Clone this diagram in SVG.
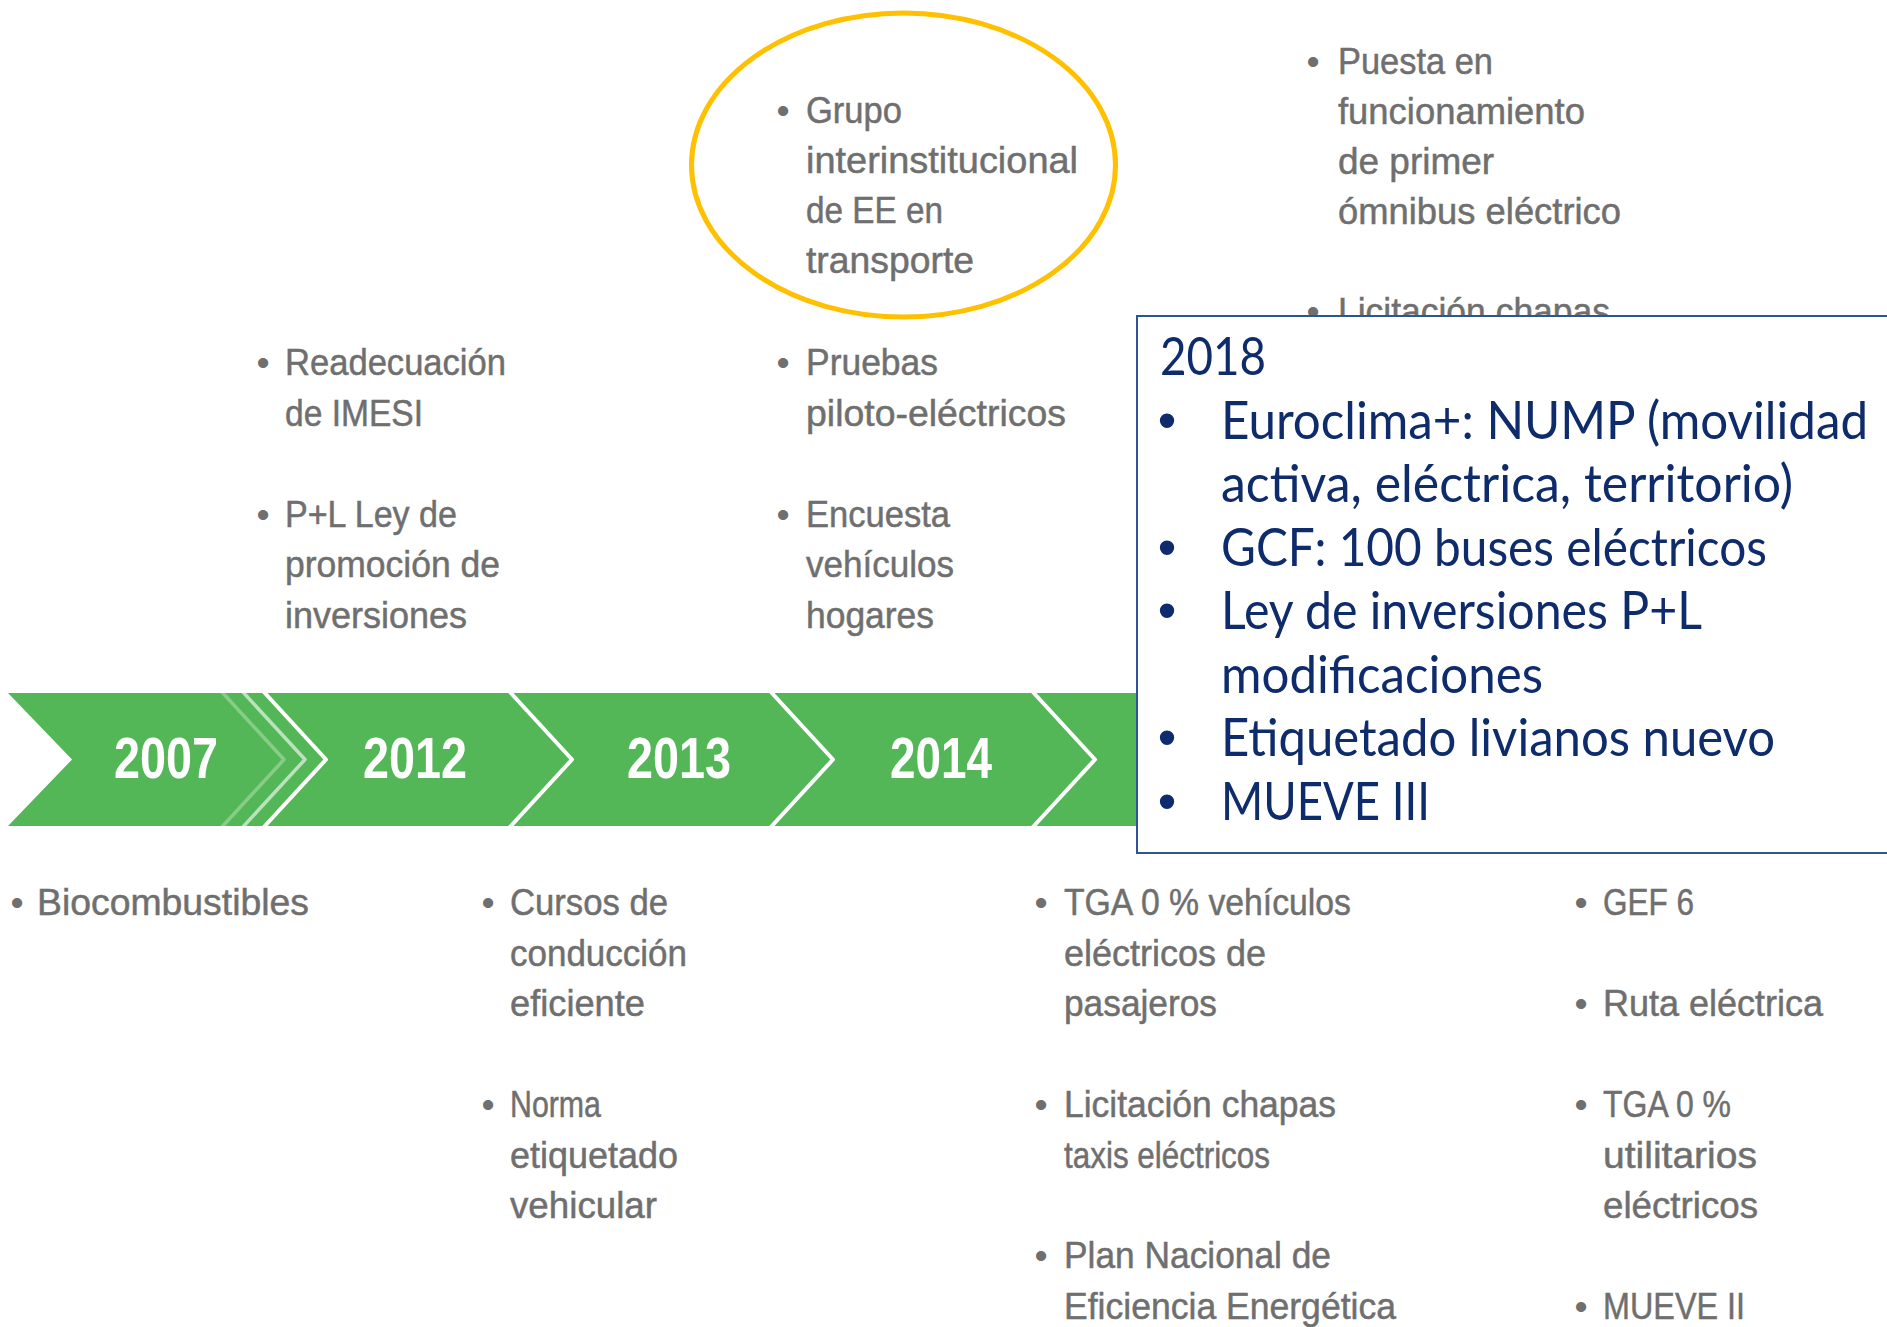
<svg xmlns="http://www.w3.org/2000/svg" width="1887" height="1327" viewBox="0 0 1887 1327">
  <style>
    .g { font-family: "Liberation Sans", Arial, sans-serif; font-size: 37.5px; fill: #6f6f6f; stroke: #6f6f6f; stroke-width: 0.5px; }
    .gb { font-family: "Liberation Sans", Arial, sans-serif; font-size: 37.5px; fill: #6f6f6f; text-anchor: middle; }
    .yr { font-family: "Liberation Sans", Arial, sans-serif; font-size: 57px; font-weight: bold; fill: #ffffff; text-anchor: middle; }
    .bx { font-family: Lato, "Liberation Sans", sans-serif; font-size: 53px; fill: #0e2c6c; }
    .bxb { font-family: "Liberation Sans", Arial, sans-serif; font-size: 53px; fill: #0e2c6c; text-anchor: middle; }
    .chev { fill: none; stroke: #ffffff; stroke-width: 4; stroke-linejoin: round; }
  </style>
  <rect x="0" y="0" width="1887" height="1327" fill="#ffffff"/>

  <!-- upper texts -->
  <g id="item-2012-top">
    <text class="gb" x="263" y="375">•</text>
    <text class="g" x="285" y="375" textLength="221" lengthAdjust="spacingAndGlyphs">Readecuación</text>
    <text class="g" x="285" y="425.5" textLength="138" lengthAdjust="spacingAndGlyphs">de IMESI</text>
    <text class="gb" x="263" y="526.5">•</text>
    <text class="g" x="285" y="526.5" textLength="172" lengthAdjust="spacingAndGlyphs">P+L Ley de</text>
    <text class="g" x="285" y="577" textLength="215" lengthAdjust="spacingAndGlyphs">promoción de</text>
    <text class="g" x="285" y="627.5" textLength="182" lengthAdjust="spacingAndGlyphs">inversiones</text>
  </g>

  <g id="item-2014-top">
    <text class="gb" x="783" y="123">•</text>
    <text class="g" x="806" y="123" textLength="96" lengthAdjust="spacingAndGlyphs">Grupo</text>
    <text class="g" x="806" y="173" textLength="272" lengthAdjust="spacingAndGlyphs">interinstitucional</text>
    <text class="g" x="806" y="223" textLength="137" lengthAdjust="spacingAndGlyphs">de EE en</text>
    <text class="g" x="806" y="273" textLength="168" lengthAdjust="spacingAndGlyphs">transporte</text>
    <text class="gb" x="783" y="375">•</text>
    <text class="g" x="806" y="375" textLength="132" lengthAdjust="spacingAndGlyphs">Pruebas</text>
    <text class="g" x="806" y="425.5" textLength="260" lengthAdjust="spacingAndGlyphs">piloto-eléctricos</text>
    <text class="gb" x="783" y="526.5">•</text>
    <text class="g" x="806" y="526.5" textLength="144" lengthAdjust="spacingAndGlyphs">Encuesta</text>
    <text class="g" x="806" y="577" textLength="148" lengthAdjust="spacingAndGlyphs">vehículos</text>
    <text class="g" x="806" y="627.5" textLength="128" lengthAdjust="spacingAndGlyphs">hogares</text>
  </g>

  <g id="highlight-ellipse">
    <ellipse cx="903.5" cy="165" rx="212" ry="152" fill="none" stroke="#ffc000" stroke-width="5"/>
  </g>

  <g id="item-2016-top">
    <text class="gb" x="1313" y="74">•</text>
    <text class="g" x="1338" y="74" textLength="155" lengthAdjust="spacingAndGlyphs">Puesta en</text>
    <text class="g" x="1338" y="124" textLength="247" lengthAdjust="spacingAndGlyphs">funcionamiento</text>
    <text class="g" x="1338" y="174" textLength="156" lengthAdjust="spacingAndGlyphs">de primer</text>
    <text class="g" x="1338" y="224" textLength="283" lengthAdjust="spacingAndGlyphs">ómnibus eléctrico</text>
    <text class="gb" x="1313" y="324">•</text>
    <text class="g" x="1338" y="324" textLength="272" lengthAdjust="spacingAndGlyphs">Licitación chapas</text>
  </g>

  <!-- lower texts -->
  <g id="item-2007-bottom">
    <text class="gb" x="17" y="915">•</text>
    <text class="g" x="37" y="915" textLength="272" lengthAdjust="spacingAndGlyphs">Biocombustibles</text>
  </g>

  <g id="item-2013-bottom">
    <text class="gb" x="488" y="915">•</text>
    <text class="g" x="510" y="915" textLength="158" lengthAdjust="spacingAndGlyphs">Cursos de</text>
    <text class="g" x="510" y="965.5" textLength="177" lengthAdjust="spacingAndGlyphs">conducción</text>
    <text class="g" x="510" y="1016" textLength="135" lengthAdjust="spacingAndGlyphs">eficiente</text>
    <text class="gb" x="488" y="1117">•</text>
    <text class="g" x="510" y="1117" textLength="91" lengthAdjust="spacingAndGlyphs">Norma</text>
    <text class="g" x="510" y="1167.5" textLength="168" lengthAdjust="spacingAndGlyphs">etiquetado</text>
    <text class="g" x="510" y="1218" textLength="147" lengthAdjust="spacingAndGlyphs">vehicular</text>
  </g>

  <g id="item-2015-bottom">
    <text class="gb" x="1041" y="915">•</text>
    <text class="g" x="1064" y="915" textLength="287" lengthAdjust="spacingAndGlyphs">TGA 0 % vehículos</text>
    <text class="g" x="1064" y="965.5" textLength="202" lengthAdjust="spacingAndGlyphs">eléctricos de</text>
    <text class="g" x="1064" y="1016" textLength="153" lengthAdjust="spacingAndGlyphs">pasajeros</text>
    <text class="gb" x="1041" y="1117">•</text>
    <text class="g" x="1064" y="1117" textLength="272" lengthAdjust="spacingAndGlyphs">Licitación chapas</text>
    <text class="g" x="1064" y="1167.5" textLength="206" lengthAdjust="spacingAndGlyphs">taxis eléctricos</text>
    <text class="gb" x="1041" y="1268">•</text>
    <text class="g" x="1064" y="1268" textLength="267" lengthAdjust="spacingAndGlyphs">Plan Nacional de</text>
    <text class="g" x="1064" y="1318.5" textLength="332" lengthAdjust="spacingAndGlyphs">Eficiencia Energética</text>
  </g>

  <g id="item-2017-bottom">
    <text class="gb" x="1581" y="915">•</text>
    <text class="g" x="1603" y="915" textLength="91" lengthAdjust="spacingAndGlyphs">GEF 6</text>
    <text class="gb" x="1581" y="1016">•</text>
    <text class="g" x="1603" y="1016" textLength="220" lengthAdjust="spacingAndGlyphs">Ruta eléctrica</text>
    <text class="gb" x="1581" y="1117">•</text>
    <text class="g" x="1603" y="1117" textLength="128" lengthAdjust="spacingAndGlyphs">TGA 0 %</text>
    <text class="g" x="1603" y="1167.5" textLength="154" lengthAdjust="spacingAndGlyphs">utilitarios</text>
    <text class="g" x="1603" y="1218" textLength="155" lengthAdjust="spacingAndGlyphs">eléctricos</text>
    <text class="gb" x="1581" y="1318.5">•</text>
    <text class="g" x="1603" y="1318.5" textLength="142" lengthAdjust="spacingAndGlyphs">MUEVE II</text>
  </g>

  <!-- timeline band -->
  <g id="timeline">
    <polygon points="8,693 1145,693 1145,826 8,826 72,759.5" fill="#54b757"/>
    <polyline points="221,691 284,759.5 221,828" fill="none" stroke="#ffffff" stroke-opacity="0.3" stroke-width="3.5" stroke-linejoin="round"/>
    <polyline points="242,691 305,759.5 242,828" fill="none" stroke="#ffffff" stroke-opacity="0.6" stroke-width="3.5" stroke-linejoin="round"/>
    <polyline class="chev" points="263,691 326,759.5 263,828"/>
    <polyline class="chev" points="509,691 572,759.5 509,828"/>
    <polyline class="chev" points="770,691 833,759.5 770,828"/>
    <polyline class="chev" points="1032,691 1095,759.5 1032,828"/>
  </g>
  <g id="year-2007"><text class="yr" x="166" y="778" textLength="104" lengthAdjust="spacingAndGlyphs">2007</text></g>
  <g id="year-2012"><text class="yr" x="415" y="778" textLength="104" lengthAdjust="spacingAndGlyphs">2012</text></g>
  <g id="year-2013"><text class="yr" x="679" y="778" textLength="104" lengthAdjust="spacingAndGlyphs">2013</text></g>
  <g id="year-2014"><text class="yr" x="941" y="778" textLength="102" lengthAdjust="spacingAndGlyphs">2014</text></g>

  <!-- 2018 box -->
  <g id="box-2018">
    <rect x="1137" y="316" width="780" height="537" fill="#ffffff" stroke="#2f5496" stroke-width="2"/>
    <text class="bx" x="1160" y="375" textLength="106" lengthAdjust="spacingAndGlyphs">2018</text>
    <text class="bxb" x="1167" y="438.5">•</text>
    <text class="bx" x="1221" y="438.5" textLength="647" lengthAdjust="spacingAndGlyphs">Euroclima+: NUMP (movilidad</text>
    <text class="bx" x="1221" y="502" textLength="572" lengthAdjust="spacingAndGlyphs">activa, eléctrica, territorio)</text>
    <text class="bxb" x="1167" y="565.5">•</text>
    <text class="bx" x="1221" y="565.5" textLength="546" lengthAdjust="spacingAndGlyphs">GCF: 100 buses eléctricos</text>
    <text class="bxb" x="1167" y="629">•</text>
    <text class="bx" x="1221" y="629" textLength="481" lengthAdjust="spacingAndGlyphs">Ley de inversiones P+L</text>
    <text class="bx" x="1221" y="692.5" textLength="322" lengthAdjust="spacingAndGlyphs">modificaciones</text>
    <text class="bxb" x="1167" y="756">•</text>
    <text class="bx" x="1221" y="756" textLength="554" lengthAdjust="spacingAndGlyphs">Etiquetado livianos nuevo</text>
    <text class="bxb" x="1167" y="819.5">•</text>
    <text class="bx" x="1221" y="819.5" textLength="209" lengthAdjust="spacingAndGlyphs">MUEVE III</text>
  </g>
</svg>
